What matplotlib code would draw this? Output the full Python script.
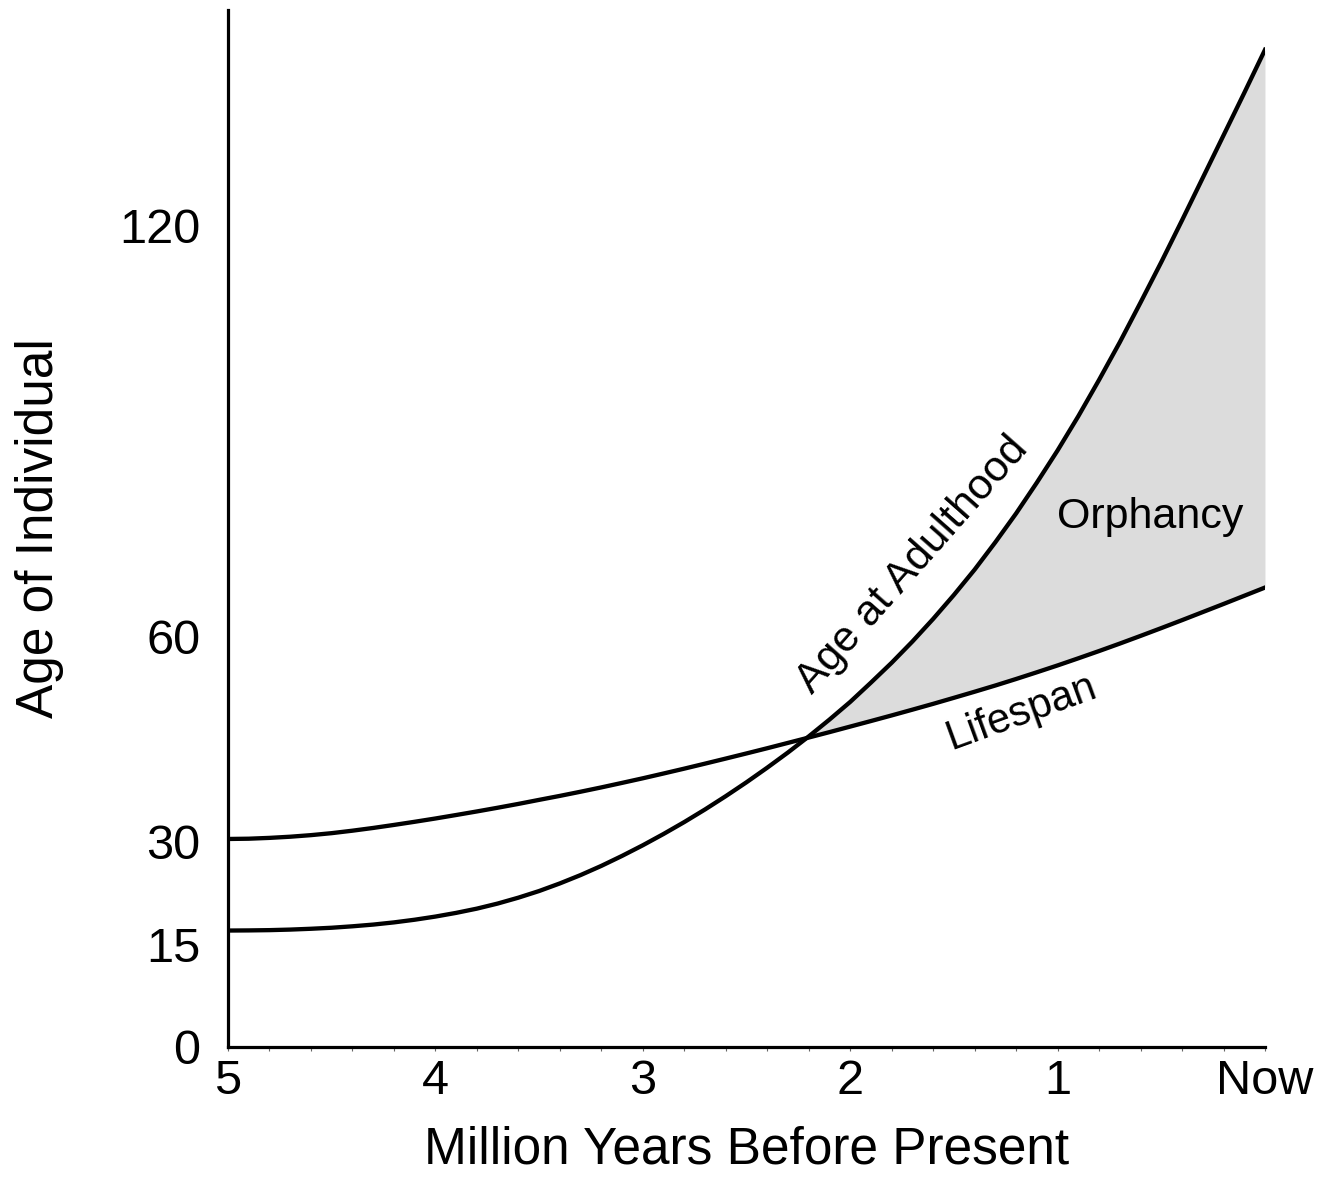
import numpy as np
import matplotlib.pyplot as plt
from matplotlib.ticker import MultipleLocator

plt.rcParams['font.family'] = ['Liberation Sans', 'DejaVu Sans']

# million years before present, sampled every 0.1 (5 = oldest, 0 = now)
myr = np.linspace(5.0, 0.0, 51)

# age (years) at which an individual reaches adulthood
adulthood = [17.0, 17.02, 17.06, 17.14, 17.26, 17.41, 17.62, 17.87, 18.19, 18.58,
             19.04, 19.58, 20.20, 20.94, 21.80, 22.77, 23.88, 25.10, 26.44, 27.90,
             29.45, 31.10, 32.84, 34.68, 36.62, 38.65, 40.78, 43.00, 45.34, 47.80,
             50.38, 53.2, 56.1, 59.2, 62.5, 66.0, 69.7, 73.7, 77.9, 82.4,
             87.1, 92.1, 97.4, 102.9, 108.7, 114.6, 120.7, 126.9, 133.1, 139.3,
             145.6]

# typical lifespan (years)
lifespan = [30.37, 30.41, 30.53, 30.70, 30.93, 31.22, 31.58, 31.98, 32.42, 32.88,
            33.36, 33.87, 34.39, 34.93, 35.49, 36.08, 36.66, 37.27, 37.90, 38.56,
            39.23, 39.93, 40.64, 41.37, 42.11, 42.86, 43.62, 44.40, 45.18, 45.97,
            46.78, 47.59, 48.41, 49.25, 50.10, 50.98, 51.87, 52.78, 53.73, 54.71,
            55.71, 56.75, 57.81, 58.90, 60.02, 61.16, 62.32, 63.50, 64.68, 65.88,
            67.08]

x_ticks = [5, 4, 3, 2, 1, 0]
x_labels = ['5', '4', '3', '2', '1', 'Now']
y_ticks = [0, 15, 30, 60, 120]

adult = np.array(adulthood)
life = np.array(lifespan)

fig = plt.figure(figsize=(13.31, 11.96), dpi=100)
ax = fig.add_axes([0.1713, 0.1246, 0.7791, 0.867])

# shaded gap where adulthood comes after death -> orphans
ax.fill_between(myr, life, adult, where=adult >= life, interpolate=True,
                color='#dcdcdc', lw=0)
ax.plot(myr, adulthood, color='black', lw=3.1)
ax.plot(myr, lifespan, color='black', lw=3.1)

ax.set_xlim(5, 0)
ax.set_ylim(0, 151.4)

for side in ['top', 'right']:
    ax.spines[side].set_visible(False)
for side in ['left', 'bottom']:
    ax.spines[side].set_linewidth(2.3)

ax.set_xticks(x_ticks)
ax.set_xticklabels(x_labels)
ax.xaxis.set_minor_locator(MultipleLocator(0.2))
ax.tick_params(axis='x', which='both', direction='out', length=3,
               width=0.8, color='#666666', pad=6, labelsize=35)

ax.set_yticks(y_ticks)
ax.tick_params(axis='y', length=0, pad=20, labelsize=35)

ax.set_xlabel('Million Years Before Present', fontsize=37)
ax.xaxis.set_label_coords(0.5, -0.076)
ax.set_ylabel('Age of Individual', fontsize=37)
ax.yaxis.set_label_coords(-0.158, 0.5)

ax.text(0.555, 77.4, 'Orphancy', fontsize=31, ha='center', va='center')
ax.text(1.172, 48.9, 'Lifespan', fontsize=30, ha='center', va='center',
        rotation=20, rotation_mode='anchor')
ax.text(1.70, 70.4, 'Age at Adulthood', fontsize=31, ha='center',
        va='center', rotation=48.5, rotation_mode='anchor')

fig.savefig('out.png', dpi=100)
